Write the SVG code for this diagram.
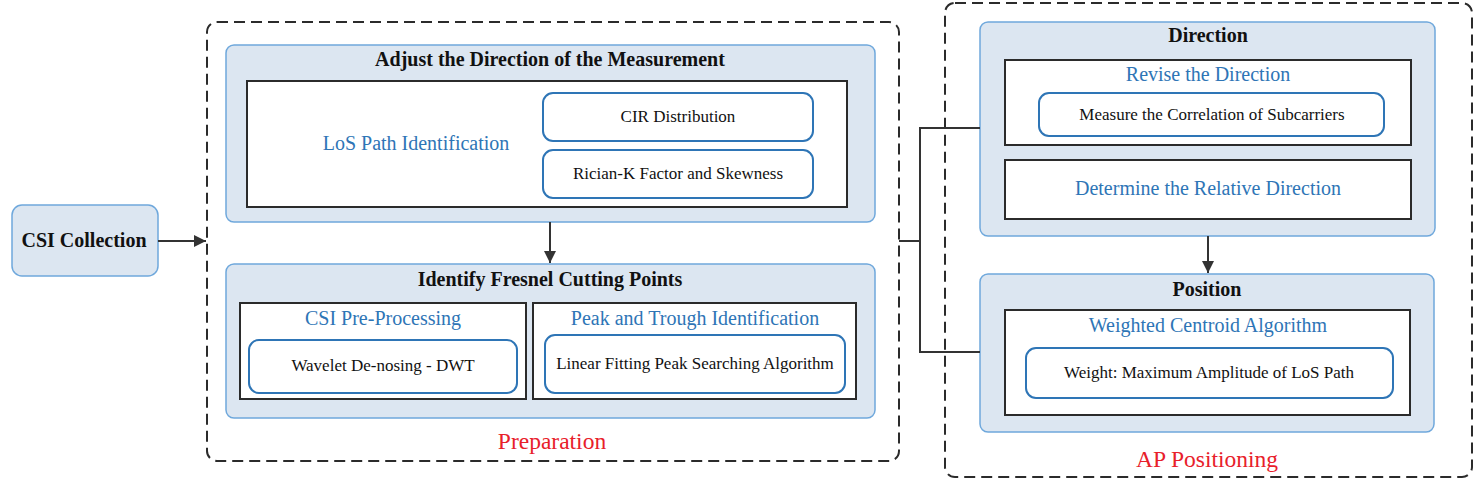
<svg xmlns="http://www.w3.org/2000/svg" width="1477" height="484" viewBox="0 0 1477 484">
<defs>
<style>
.bg{fill:#ffffff}
.group{fill:none;stroke:#2b2b2b;stroke-width:2;stroke-dasharray:11,6}
.panel{fill:#dce6f1;stroke:#6fa8dc;stroke-width:1.5}
.frame{fill:#ffffff;stroke:#2b2b2b;stroke-width:2}
.pill{fill:#ffffff;stroke:#2e75b6;stroke-width:2}
.title{font-family:"Liberation Serif","Times New Roman",serif;font-weight:bold;font-size:20px;fill:#111111;text-anchor:middle}
.blue{font-family:"Liberation Serif","Times New Roman",serif;font-size:20px;fill:#2e75b6;text-anchor:middle}
.small{font-family:"Liberation Serif","Times New Roman",serif;font-size:17px;fill:#111111;text-anchor:middle}
.red{font-family:"Liberation Serif","Times New Roman",serif;font-size:23.5px;fill:#e8202a;text-anchor:middle}
.conn{fill:none;stroke:#333333;stroke-width:2}
</style>
<marker id="arr" viewBox="0 0 10 10" refX="10" refY="5" markerWidth="6" markerHeight="6" orient="auto" markerUnits="strokeWidth">
<path d="M0,0 L10,5 L0,10 z" fill="#333333"/>
</marker>
</defs>
<rect class="bg" x="0" y="0" width="1477" height="484"/>

<g id="csi-collection">
<rect class="panel" x="12" y="205" width="146" height="71" rx="10"/>
<text class="title" x="84" y="247">CSI Collection</text>
</g>

<g id="preparation">
<rect class="group" x="207" y="22" width="692" height="439" rx="10"/>
<text class="red" x="552" y="449">Preparation</text>
</g>

<g id="adjust-direction">
<rect class="panel" x="226" y="45" width="649" height="177" rx="8"/>
<text class="title" x="550" y="66">Adjust the Direction of the Measurement</text>
<rect class="frame" x="247" y="81" width="600" height="126"/>
<text class="blue" x="416" y="150">LoS Path Identification</text>
</g>

<g id="cir-distribution">
<rect class="pill" x="543" y="93" width="270" height="48" rx="10"/>
<text class="small" x="678" y="122">CIR Distribution</text>
</g>

<g id="rician-k">
<rect class="pill" x="543" y="150" width="270" height="48" rx="10"/>
<text class="small" x="678" y="179">Rician-K Factor and Skewness</text>
</g>

<g id="fresnel">
<rect class="panel" x="226" y="264" width="649" height="154" rx="8"/>
<text class="title" x="550" y="286">Identify Fresnel Cutting Points</text>
</g>

<g id="csi-preprocessing">
<rect class="frame" x="240" y="303" width="286" height="96"/>
<text class="blue" x="383" y="325">CSI Pre-Processing</text>
<rect class="pill" x="249" y="340" width="268" height="53" rx="10"/>
<text class="small" x="383" y="371">Wavelet De-nosing - DWT</text>
</g>

<g id="peak-trough">
<rect class="frame" x="533" y="303" width="323" height="96"/>
<text class="blue" x="695" y="325">Peak and Trough Identification</text>
<rect class="pill" x="545" y="335" width="300" height="58" rx="10"/>
<text class="small" x="695" y="369">Linear Fitting Peak Searching Algorithm</text>
</g>

<g id="ap-positioning">
<rect class="group" x="945" y="3" width="527" height="474" rx="10"/>
<text class="red" x="1207" y="467">AP Positioning</text>
</g>

<g id="direction">
<rect class="panel" x="980" y="22" width="455" height="214" rx="8"/>
<text class="title" x="1208" y="42">Direction</text>
</g>

<g id="revise-direction">
<rect class="frame" x="1005" y="60" width="406" height="85"/>
<text class="blue" x="1208" y="81">Revise the Direction</text>
<rect class="pill" x="1039" y="93" width="345" height="43" rx="10"/>
<text class="small" x="1212" y="120">Measure the Correlation of Subcarriers</text>
</g>

<g id="relative-direction">
<rect class="frame" x="1005" y="160" width="406" height="59"/>
<text class="blue" x="1208" y="195">Determine the Relative Direction</text>
</g>

<g id="position">
<rect class="panel" x="980" y="274" width="454" height="158" rx="8"/>
<text class="title" x="1207" y="296">Position</text>
</g>

<g id="weighted-centroid">
<rect class="frame" x="1005" y="310" width="405" height="105"/>
<text class="blue" x="1208" y="332">Weighted Centroid Algorithm</text>
<rect class="pill" x="1026" y="348" width="367" height="50" rx="10"/>
<text class="small" x="1209" y="378">Weight: Maximum Amplitude of LoS Path</text>
</g>

<g id="connectors">
<line class="conn" x1="158" y1="241" x2="206" y2="241" marker-end="url(#arr)"/>
<line class="conn" x1="550" y1="222" x2="550" y2="263" marker-end="url(#arr)"/>
<line class="conn" x1="1208" y1="236" x2="1208" y2="273" marker-end="url(#arr)"/>
<polyline class="conn" points="899,241 920,241"/>
<polyline class="conn" points="980,128 920,128 920,352 980,352"/>
</g>
</svg>
